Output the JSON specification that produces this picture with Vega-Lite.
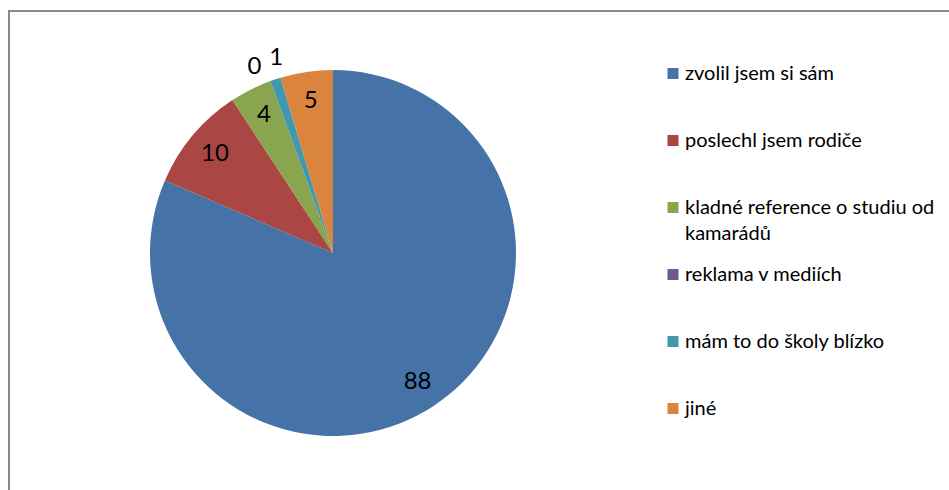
{
  "$schema": "https://vega.github.io/schema/vega-lite/v6.json",
  "width": 945,
  "height": 484,
  "autosize": "none",
  "padding": {"left": 9, "top": 11, "right": -5, "bottom": -5},
  "background": "white",
  "view": {"stroke": "#898989", "strokeWidth": 2, "fill": "white"},
  "config": {"view": {"stroke": "#898989", "strokeWidth": 2}, "font": "Lato"},
  "data": {
    "values": [
      {"kategorie": "zvolil jsem si sám", "pocet": 88, "poradi": 1},
      {"kategorie": "poslechl jsem rodiče", "pocet": 10, "poradi": 2},
      {"kategorie": "kladné reference o studiu od kamarádů", "pocet": 4, "poradi": 3},
      {"kategorie": "reklama v mediích", "pocet": 0, "poradi": 4},
      {"kategorie": "mám to do školy blízko", "pocet": 1, "poradi": 5},
      {"kategorie": "jiné", "pocet": 5, "poradi": 6}
    ]
  },
  "encoding": {
    "theta": {"field": "pocet", "type": "quantitative", "stack": true},
    "order": {"field": "poradi", "type": "quantitative"},
    "color": {
      "field": "kategorie",
      "type": "nominal",
      "scale": {
        "domain": ["zvolil jsem si sám", "poslechl jsem rodiče", "kladné reference o studiu od kamarádů", "reklama v mediích", "mám to do školy blízko", "jiné"],
        "range": ["#4572A7", "#AA4643", "#89A54E", "#71588F", "#4198AF", "#DB843D"]
      },
      "legend": {
        "orient": "none",
        "legendX": 654,
        "legendY": 52.5,
        "title": null,
        "padding": 0,
        "symbolType": "square",
        "symbolSize": 121,
        "symbolStrokeWidth": 0,
        "labelFont": "Lato",
        "labelFontSize": 20,
        "labelColor": "black",
        "labelOffset": 2,
        "labelLimit": 400,
        "gridAlign": "all",
        "rowPadding": 21,
        "labelExpr": "datum.label == 'kladné reference o studiu od kamarádů' ? ['kladné reference o studiu od', 'kamarádů'] : datum.label",
        "encode": {"labels": {"update": {"lineHeight": {"value": 26}}}}
      }
    }
  },
  "layer": [
    {"mark": {"type": "arc", "x": 324, "y": 242, "outerRadius": 183}},
    {
      "mark": {"type": "text", "x": 324, "y": 242, "radius": 154, "fontSize": 24, "font": "Lato", "baseline": "middle", "align": "center"},
      "encoding": {
        "color": {"value": "black"},
        "text": {"condition": {"test": "datum.pocet >= 2", "field": "pocet", "type": "quantitative"}, "value": ""}
      }
    },
    {
      "mark": {"type": "text", "x": 324, "y": 242, "radius": 203, "dx": -9, "dy": 5, "fontSize": 24, "font": "Lato", "baseline": "middle", "align": "center"},
      "encoding": {
        "color": {"value": "black"},
        "text": {"condition": {"test": "datum.pocet == 0", "field": "pocet", "type": "quantitative"}, "value": ""}
      }
    },
    {
      "mark": {"type": "text", "x": 324, "y": 242, "radius": 203, "dx": 7, "dy": -2, "fontSize": 24, "font": "Lato", "baseline": "middle", "align": "center"},
      "encoding": {
        "color": {"value": "black"},
        "text": {"condition": {"test": "datum.pocet == 1", "field": "pocet", "type": "quantitative"}, "value": ""}
      }
    }
  ]
}
